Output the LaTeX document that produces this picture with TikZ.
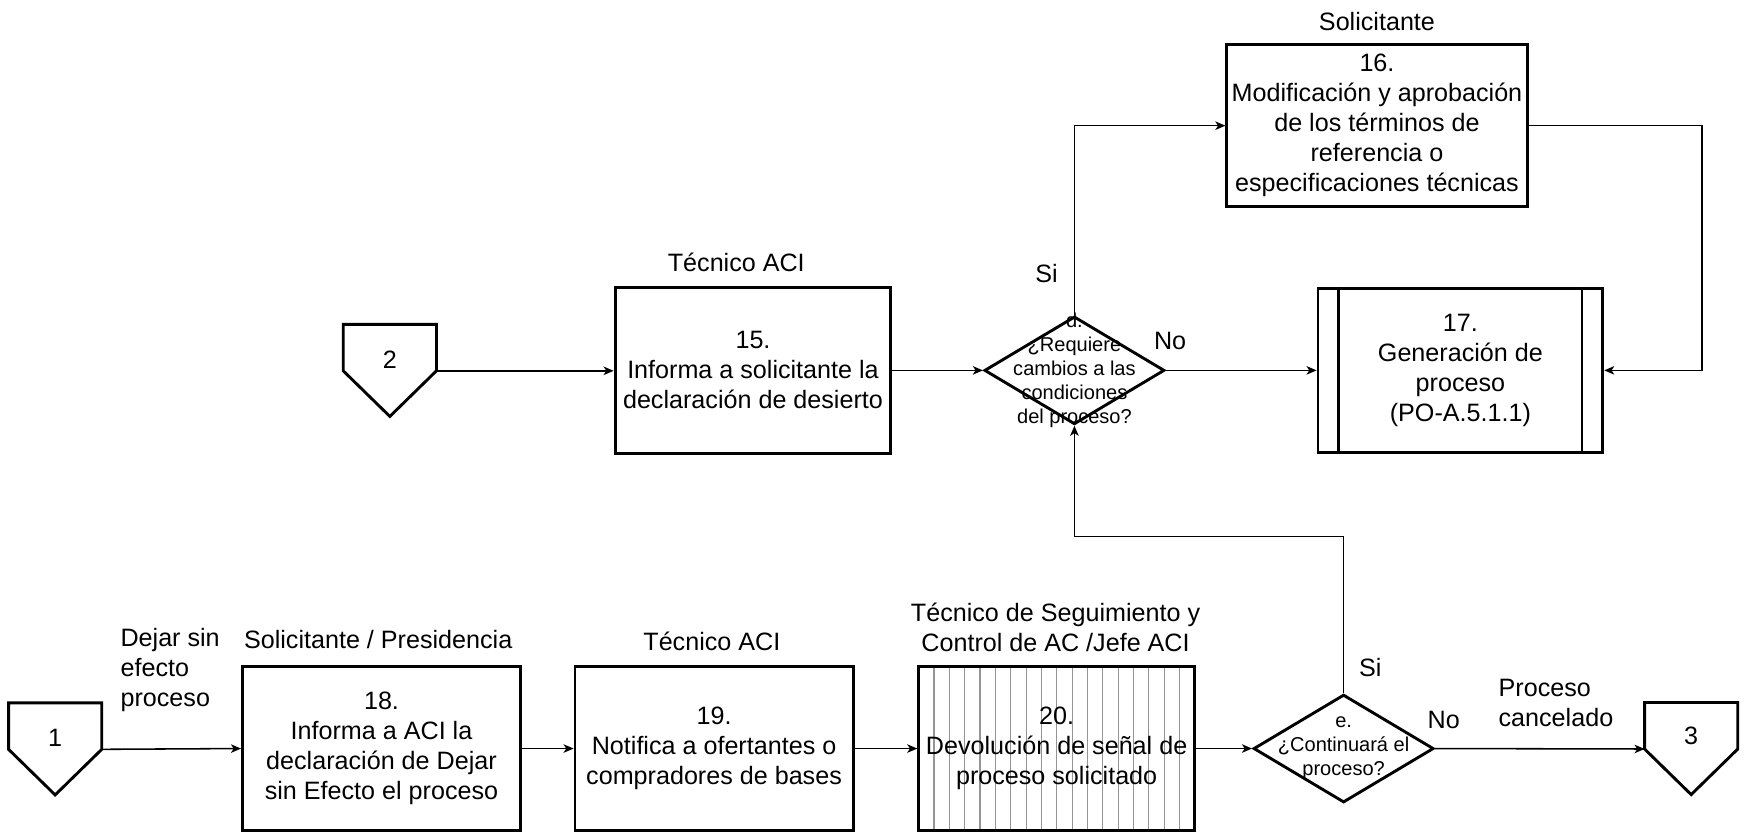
\documentclass[tikz,border=0pt]{standalone}
\usepackage{fontspec}
\setmainfont{Liberation Sans}
\usetikzlibrary{arrows.meta,shapes.geometric}

\begin{document}
\begin{tikzpicture}[x=0.5pt,y=-0.5pt,
  txt/.style={font=\fontsize{11.3pt}{13.5pt}\selectfont, align=center, inner sep=0pt},
  stepbox/.style={txt, draw, line width=1.3pt, minimum width=125pt, minimum height=74pt},
  decision/.style={diamond, draw, line width=1.3pt, minimum width=81pt, minimum height=48.5pt, inner sep=0pt},
  dtext/.style={font=\fontsize{9pt}{10.8pt}\selectfont, align=center, inner sep=0pt},
  pentbox/.style={minimum width=41.5pt, minimum height=20.5pt, inner sep=0pt},
  pentline/.style={line width=1.3pt, line join=miter},
  arr/.style={line width=0.7pt, -{Stealth[length=4.5pt,width=3.8pt,inset=1.2pt]}},
  hatch/.style={black!42, line width=0.5pt}
]
\useasboundingbox (0,0) rectangle (1568,749);

% ---------- upper branch ----------
\node[pentbox] (p2) at (350.5,312.5) {};
\draw[pentline] (p2.north west) -- (p2.north east) -- (p2.south east)
  -- ([yshift=-20.5pt]p2.south) -- (p2.south west) -- cycle;
\node[txt] (n2) at (350.5,323) {2};

\node[stepbox, minimum width=124pt, minimum height=74.5pt] (b15) at (677,333)
  {15.\\Informa a solicitante la\\declaración de desierto};
\node[txt] (l15) at (662,236) {Técnico ACI};

\node[decision] (dd) at (966,333) {};
\node[dtext] (tdd) at (966,333) {d.\\¿Requiere\\cambios a las\\condiciones\\del proceso?};

\node[stepbox, minimum width=135pt, minimum height=73pt] (b16) at (1238,113)
  {16.\\Modificación y aprobación\\de los términos de\\referencia o\\especificaciones técnicas};
\node[txt] (l16) at (1238,19) {Solicitante};

\node[stepbox, minimum width=128pt, minimum height=74pt] (b17) at (1313,333)
  {17.\\Generación de\\proceso\\(PO-A.5.1.1)};
\draw[line width=1.3pt] ([xshift=10pt]b17.north west) -- ([xshift=10pt]b17.south west);
\draw[line width=1.3pt] ([xshift=-10pt]b17.north east) -- ([xshift=-10pt]b17.south east);

\node[txt] (si1) at (941,246) {Si};
\node[txt] (no1) at (1052,307) {No};

% ---------- lower branch ----------
\node[pentbox] (p1) at (49.6,652.8) {};
\draw[pentline] (p1.north west) -- (p1.north east) -- (p1.south east)
  -- ([yshift=-20.5pt]p1.south) -- (p1.south west) -- cycle;
\node[txt] (n1) at (49.6,663) {1};
\node[txt, align=left, anchor=west] (l1) at (108,602) {Dejar sin\\efecto\\proceso};

\node[stepbox] (b18) at (343,673)
  {18.\\Informa a ACI la\\declaración de Dejar\\sin Efecto el proceso};
\node[txt] (l18) at (340,575) {Solicitante / Presidencia};

\node[stepbox] (b19) at (642,673)
  {19.\\Notifica a ofertantes o\\compradores de bases};
\node[txt] (l19) at (640,577) {Técnico ACI};

% box 20 with vertical hatching
\node[stepbox, minimum width=124pt, draw=none] (b20bg) at (950,673) {};
\foreach \k in {0,...,16}
  \draw[hatch] ([xshift={7.5pt+\k*6.9pt}]b20bg.north west) -- ([xshift={7.5pt+\k*6.9pt}]b20bg.south west);
\node[stepbox, minimum width=124pt] (b20) at (950,673)
  {20.\\Devolución de señal de\\proceso solicitado};
\node[txt] (l20) at (949,564) {Técnico de Seguimiento y\\Control de AC /Jefe ACI};

\node[decision] (de) at (1208,673) {};
\node[dtext] (tde) at (1208,673) {e.\\¿Continuará el\\proceso?};

\node[txt] (si2) at (1232,600) {Si};
\node[txt] (no2) at (1298,647) {No};
\node[txt, align=left, anchor=west] (l3) at (1347,632) {Proceso\\cancelado};

\node[pentbox] (p3) at (1520.5,652.5) {};
\draw[pentline] (p3.north west) -- (p3.north east) -- (p3.south east)
  -- ([yshift=-20.5pt]p3.south) -- (p3.south west) -- cycle;
\node[txt] (n3) at (1520.5,662) {3};

% ---------- connectors ----------
\draw[arr] (p2.south east) -- (b15.west |- p2.south east);
\draw[arr] (b15.east) -- (dd.west);
\draw[arr] (dd.north) |- (b16.west);
\draw[arr] (dd.east) -- (b17.west);
\draw[arr] (b16.east) -- ++(156,0) |- (b17.east);

\draw[arr] (p1.south east) -- (b18.west);
\draw[arr] (b18.east) -- (b19.west);
\draw[arr] (b19.east) -- (b20.west);
\draw[arr] (b20.east) -- (de.west);
\draw[arr] (de.north) -- ++(0,-141) -| (dd.south);
\draw[arr] (de.east) -- (p3.south west);
\end{tikzpicture}
\end{document}
